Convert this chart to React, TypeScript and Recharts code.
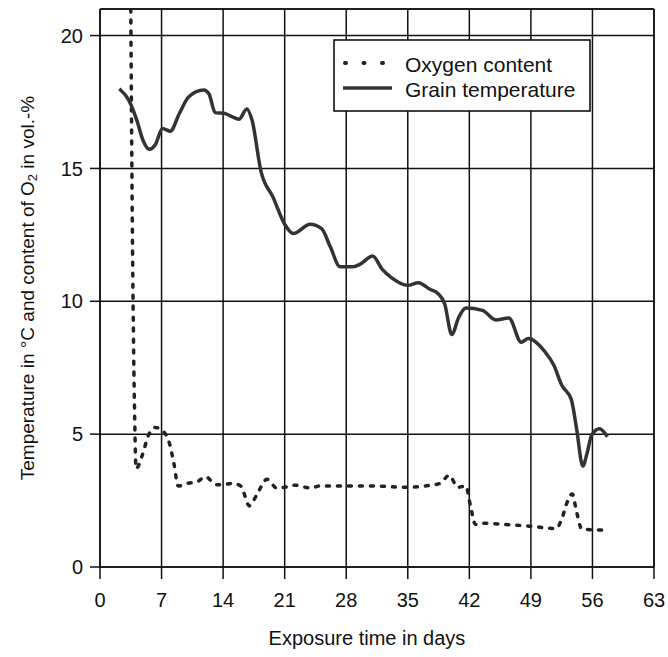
import React from 'react';
import { LineChart, Line, XAxis, YAxis, CartesianGrid, ReferenceLine, Legend } from 'recharts';

const FONT = '"Liberation Sans", Arial, Helvetica, sans-serif';

// Grain temperature (°C) vs exposure time (days)
const tempDays = [2.2, 3.3, 4.2, 4.9, 5.6, 6.3, 7.1, 8.0, 9.0, 10.1, 11.8, 12.4, 13.1, 14.1, 15.0, 15.8, 16.7, 17.3, 18.3, 19.7, 21.0, 22.0, 23.9, 25.2, 26.2, 27.3, 28.8, 29.6, 31.0, 32.1, 33.1, 35.0, 36.2, 37.5, 38.4, 39.2, 40.0, 40.8, 41.6, 43.5, 45.0, 46.5, 47.9, 48.7, 50.6, 51.6, 52.5, 53.6, 54.2, 54.9, 55.4, 55.9, 56.8, 57.7];
const tempValues = [18.0, 17.55, 16.8, 16.05, 15.72, 15.9, 16.5, 16.4, 17.05, 17.7, 17.95, 17.8, 17.1, 17.08, 16.95, 16.85, 17.24, 16.8, 14.9, 13.9, 12.9, 12.55, 12.9, 12.73, 12.04, 11.3, 11.3, 11.4, 11.7, 11.2, 10.9, 10.6, 10.7, 10.45, 10.3, 9.9, 8.75, 9.4, 9.75, 9.66, 9.3, 9.37, 8.46, 8.6, 8.1, 7.6, 6.85, 6.3, 5.2, 3.8, 4.3, 4.95, 5.2, 4.9];

// Oxygen content (vol.-%) vs exposure time (days)
const oxyDays = [3.5, 3.7, 3.95, 4.1, 4.8, 5.5, 6.3, 7.2, 7.9, 8.4, 8.9, 10.0, 11.0, 12.0, 13.2, 14.1, 15.0, 16.0, 17.0, 17.8, 19.0, 20.1, 21.0, 22.1, 24.0, 25.0, 28.0, 31.0, 34.8, 37.0, 38.7, 39.7, 40.7, 41.6, 42.1, 42.7, 43.8, 46.0, 48.5, 51.9, 52.5, 53.2, 53.7, 54.2, 54.8, 56.3, 57.7];
const oxyValues = [21.0, 12.0, 5.5, 3.7, 4.2, 4.95, 5.25, 5.1, 4.65, 3.9, 3.05, 3.15, 3.2, 3.4, 3.1, 3.1, 3.15, 3.05, 2.3, 2.7, 3.3, 2.97, 3.0, 3.08, 2.97, 3.05, 3.05, 3.05, 3.0, 3.05, 3.15, 3.45, 3.0, 3.05, 2.35, 1.6, 1.65, 1.6, 1.55, 1.45, 1.8, 2.5, 2.75, 2.07, 1.42, 1.4, 1.38];

const xTicks = [0, 7, 14, 21, 28, 35, 42, 49, 56, 63];
const yTicks = [0, 5, 10, 15, 20];

const tempData = tempDays.map((x, i) => ({ x, temp: tempValues[i] }));
const oxyData = oxyDays.map((x, i) => ({ x, oxy: oxyValues[i] }));

const YLabel = (props: any) => {
  const vb = props.viewBox || { x: 0, y: 9, width: 100, height: 558 };
  const cx = 27;
  const cy = vb.y + vb.height / 2;
  return (
    <text
      x={cx}
      y={cy}
      transform={`rotate(-90, ${cx}, ${cy})`}
      textAnchor="middle"
      dominantBaseline="central"
      fontFamily={FONT}
      fontSize={19}
      fill="#111"
    >
      Temperature in °C and content of O
      <tspan dy={5} fontSize={13}>2</tspan>
      <tspan dy={-5}> in vol.-%</tspan>
    </text>
  );
};

const XLabel = (props: any) => {
  const vb = props.viewBox || { x: 100, y: 567, width: 554, height: 90 };
  const cx = vb.x + vb.width / 2 - 10;
  const cy = vb.y + 78;
  return (
    <text x={cx} y={cy} textAnchor="middle" fontFamily={FONT} fontSize={20} fill="#111">
      Exposure time in days
    </text>
  );
};

const LegendBox = () => (
  <svg width={260} height={75} style={{ display: 'block' }}>
    <rect x={1} y={1} width={256} height={71} fill="#fff" stroke="#111" strokeWidth={1.6} />
    <line x1={12} x2={50} y1={24} y2={24} stroke="#222" strokeWidth={4} strokeDasharray="1 17.5" strokeLinecap="round" />
    <text x={72} y={33} fontFamily={FONT} fontSize={21} fill="#111">Oxygen content</text>
    <line x1={10} x2={59} y1={49} y2={49} stroke="#333" strokeWidth={3.5} />
    <text x={72} y={58} fontFamily={FONT} fontSize={21} fill="#111">Grain temperature</text>
  </svg>
);

export default function App() {
  return (
    <div style={{ position: 'absolute', left: 0, top: 0, width: 668, height: 657, background: '#fff' }}>
      <LineChart width={668} height={657} margin={{ top: 9, right: 14, bottom: 0, left: 0 }}>
        <CartesianGrid stroke="#111" strokeWidth={1.5} />
        <XAxis
          dataKey="x"
          type="number"
          domain={[0, 63]}
          ticks={xTicks}
          interval={0}
          height={90}
          stroke="#111"
          strokeWidth={1.5}
          tickSize={12}
          tickMargin={14}
          tick={{ fontFamily: FONT, fontSize: 20, fill: '#111' }}
          label={<XLabel />}
          allowDataOverflow
        />
        <YAxis
          type="number"
          domain={[0, 21]}
          ticks={yTicks}
          interval={0}
          width={100}
          stroke="#111"
          strokeWidth={1.5}
          tickSize={10}
          tickMargin={7}
          tick={{ fontFamily: FONT, fontSize: 20, fill: '#111' }}
          label={<YLabel />}
          allowDataOverflow
        />
        <ReferenceLine y={21} stroke="#111" strokeWidth={1.5} />
        <ReferenceLine x={63} stroke="#111" strokeWidth={1.5} />
        <Line
          data={oxyData}
          dataKey="oxy"
          name="Oxygen content"
          type="monotone"
          stroke="#222"
          strokeWidth={3.5}
          strokeDasharray="3 8"
          strokeLinecap="round"
          dot={false}
          activeDot={false}
          isAnimationActive={false}
        />
        <Line
          data={tempData}
          dataKey="temp"
          name="Grain temperature"
          type="monotone"
          stroke="#333"
          strokeWidth={3.5}
          dot={false}
          activeDot={false}
          isAnimationActive={false}
        />
        <Legend
          layout="vertical"
          align="center"
          verticalAlign="middle"
          content={<LegendBox />}
          wrapperStyle={{ position: 'absolute', left: 333, top: 39, width: 260, height: 75 }}
        />
      </LineChart>
    </div>
  );
}
